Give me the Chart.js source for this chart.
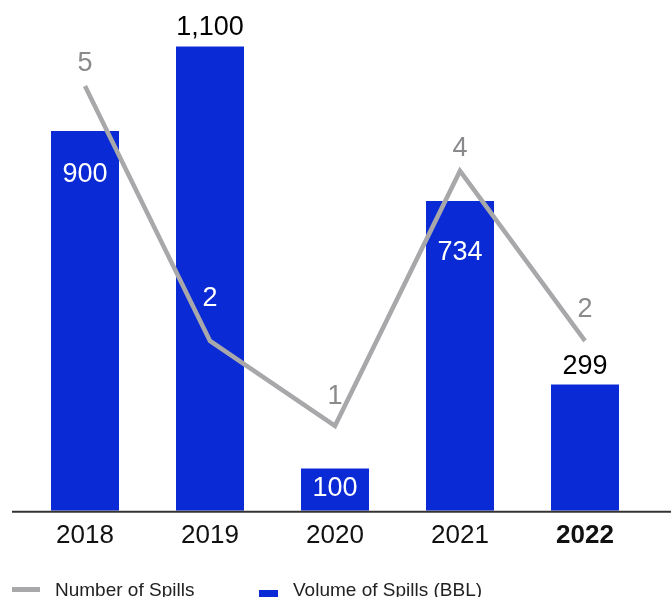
<!DOCTYPE html>
<html lang="en">
<head>
    <meta charset="UTF-8">
    <title>Spills</title>
    <script src="https://cdn.jsdelivr.net/npm/chart.js"></script>
    <style>
        body { margin: 0; background: #fff; }
        .wrap { position: relative; width: 671px; height: 597px; overflow: hidden; }
        .legend { position: absolute; left: 0; top: 0; width: 100%; height: 100%; pointer-events: none;
                  font-family: "Liberation Sans", Arial, sans-serif; font-size: 19px; color: #222; }
        .legend .sw { position: absolute; }
        .legend .txt { position: absolute; line-height: 19px; white-space: nowrap; }
    </style>
</head>
<body>
    <div class="wrap">
        <canvas id="spillChart"></canvas>
        <div class="legend" id="legend"></div>
    </div>

    <script>
        // data
        const years = ["2018", "2019", "2020", "2021", "2022"];
        const volume = [900, 1100, 100, 734, 299];     // BBL
        const spills = [5, 2, 1, 4, 2];
        const boldYear = "2022";

        // label placement (px from bar top / point)
        const barLabelPos = ["inside", "above", "inside", "inside", "above"];
        const barLabelGap = [44, 19, 20, 52, 18];
        const lineLabelGap = [22, 42, 29, 22, 31];
        const lineLabelWhite = [false, true, false, false, false];

        const BLUE = "#0a2ad6";
        const GREY = "#a8a8ab";
        const FONT = "'Liberation Sans', Arial, sans-serif";

        // 🔹 labels on bars and points
        const valueLabels = {
            id: "valueLabels",
            afterDatasetsDraw(chart) {
                const ctx = chart.ctx;
                ctx.save();
                ctx.textAlign = "center";
                ctx.textBaseline = "middle";

                const bars = chart.getDatasetMeta(1).data;
                bars.forEach((bar, i) => {
                    const inside = barLabelPos[i] === "inside";
                    ctx.font = "400 27px " + FONT;
                    ctx.fillStyle = inside ? "#ffffff" : "#000000";
                    const y = inside ? bar.y + barLabelGap[i] : bar.y - barLabelGap[i];
                    ctx.fillText(volume[i].toLocaleString("en-US"), bar.x, y);
                });

                const pts = chart.getDatasetMeta(0).data;
                pts.forEach((p, i) => {
                    ctx.font = "400 27px " + FONT;
                    ctx.fillStyle = lineLabelWhite[i] ? "#ffffff" : "#8a8a8d";
                    ctx.fillText(String(spills[i]), p.x, p.y - lineLabelGap[i]);
                });
                ctx.restore();
            }
        };

        // 🔹 baseline across the full width
        const baseLine = {
            id: "baseLine",
            afterDatasetsDraw(chart) {
                const ctx = chart.ctx;
                const y = chart.scales.y.getPixelForValue(0);
                ctx.save();
                ctx.strokeStyle = "#333333";
                ctx.lineWidth = 2;
                ctx.beginPath();
                ctx.moveTo(12, y + 1);
                ctx.lineTo(chart.width, y + 1);
                ctx.stroke();
                ctx.restore();
            }
        };

        const chart = new Chart(document.getElementById("spillChart"), {
            type: "bar",
            data: {
                labels: years,
                datasets: [
                    {
                        type: "line",
                        label: "Number of Spills",
                        data: spills,
                        yAxisID: "y1",
                        borderColor: GREY,
                        backgroundColor: GREY,
                        borderWidth: 4.5,
                        borderCapStyle: "butt",
                        borderJoinStyle: "miter",
                        pointRadius: 0,
                        tension: 0,
                        order: 0
                    },
                    {
                        label: "Volume of Spills (BBL)",
                        data: volume,
                        yAxisID: "y",
                        backgroundColor: BLUE,
                        barPercentage: 0.544,
                        categoryPercentage: 1,
                        order: 1
                    }
                ]
            },
            options: {
                responsive: true,
                maintainAspectRatio: false,
                animation: false,
                layout: { padding: { left: 22.5, right: 23.5, top: 1, bottom: 45 } },
                plugins: {
                    legend: { display: false },
                    tooltip: { enabled: false }
                },
                scales: {
                    x: {
                        grid: { display: false },
                        border: { display: false },
                        ticks: {
                            padding: 1,
                            color: "#111111",
                            font: c => ({
                                family: FONT,
                                size: 26,
                                weight: years[c.index] === boldYear ? "bold" : "normal"
                            })
                        }
                    },
                    y: { display: false, min: 0, max: 1208 },
                    y1: { display: false, min: 0, max: 6 }
                }
            },
            plugins: [valueLabels, baseLine]
        });

        // 🔹 legend built from the datasets
        const legendEl = document.getElementById("legend");
        const swatches = [
            { sw: "left:12px;top:587px;width:28px;height:5px;", txt: "left:55px;top:580px;" },
            { sw: "left:259px;top:590px;width:19px;height:19px;", txt: "left:293px;top:580px;" }
        ];
        chart.data.datasets.forEach((ds, i) => {
            const s = document.createElement("div");
            s.className = "sw";
            s.style.cssText = swatches[i].sw + "background:" + (ds.type === "line" ? ds.borderColor : ds.backgroundColor);
            const t = document.createElement("div");
            t.className = "txt";
            t.style.cssText = swatches[i].txt;
            t.textContent = ds.label;
            legendEl.appendChild(s);
            legendEl.appendChild(t);
        });
    </script>
</body>
</html>
